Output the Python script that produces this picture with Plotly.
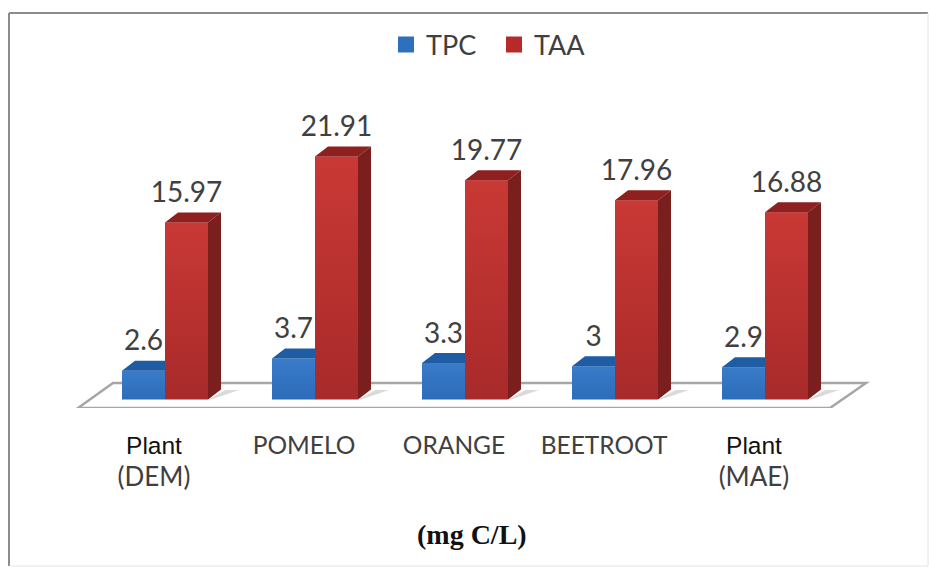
import plotly.graph_objects as go

categories = ["Plant (DEM)", "POMELO", "ORANGE", "BEETROOT", "Plant (MAE)"]
tick_labels = [
    '<span style="font-family:Liberation Sans;color:#111111">Plant</span><br><span style="font-size:26px">(DEM)</span>',
    "POMELO", "ORANGE", "BEETROOT",
    '<span style="font-family:Liberation Sans;color:#111111">Plant</span><br><span style="font-size:26px">(MAE)</span>',
]
tpc = [2.6, 3.7, 3.3, 3.0, 2.9]
taa = [15.97, 21.91, 19.77, 17.96, 16.88]
tpc_text = ["2.6", "3.7", "3.3", "3", "2.9"]
taa_text = ["15.97", "21.91", "19.77", "17.96", "16.88"]
axis_title = "(mg C/L)"

W, H = 929, 567
PX_X = 150.0      # pixels per category
PX_Y = 11.09      # pixels per value unit
X0_PX = 165.0     # pixel of category 0 (boundary of the two bars)
Y0_PX = 399.5     # pixel of value 0
FLOOR_PX = 408.0  # plot bottom
BAR_W = 43 / PX_X
DX = 13 / PX_X
DY = 10 / PX_Y

xs = list(range(len(categories)))
x_range = [-X0_PX / PX_X, (W - X0_PX) / PX_X]
y_range = [-(FLOOR_PX - Y0_PX) / PX_Y, Y0_PX / PX_Y]
y_low = y_range[0]


def px(x):
    return (x - X0_PX) / PX_X


def py(y):
    return (Y0_PX - y) / PX_Y


def polys(faces):
    ax, ay = [], []
    for f in faces:
        for (a, b) in f:
            ax.append(a)
            ay.append(b)
        ax.append(f[0][0])
        ay.append(f[0][1])
        ax.append(None)
        ay.append(None)
    return ax, ay


fig = go.Figure()

BLUE, BLUE_TOP = "#2c6cb9", "#1e5ca3"
RED, RED_TOP, RED_SIDE = "#a82a2a", "#8e2020", "#7b1e1e"
LEG_BLUE, LEG_RED = "#2f70bd", "#b62a2a"

fig.add_trace(go.Bar(x=[i - BAR_W for i in xs], y=tpc, width=BAR_W, offset=0, name="TPC",
                     marker=dict(color=BLUE, line_width=0), showlegend=False))
fig.add_trace(go.Bar(x=xs, y=taa, width=BAR_W, offset=0, name="TAA",
                     marker=dict(color=RED, line_width=0), showlegend=False))

# vertical sheen over each red and blue front face
for i, v in zip(xs, taa):
    fx, fy = polys([[(i, 0), (i, v), (i + BAR_W, v), (i + BAR_W, 0)]])
    fig.add_trace(go.Scatter(x=fx[:-1], y=fy[:-1], mode="lines", fill="toself", line=dict(width=0),
                             fillgradient=dict(type="vertical",
                                               colorscale=[[0, "rgba(255,80,70,0)"], [1, "rgba(255,80,70,0.38)"]]),
                             showlegend=False, hoverinfo="skip"))
for i, v in zip(xs, tpc):
    fx, fy = polys([[(i - BAR_W, 0), (i - BAR_W, v), (i, v), (i, 0)]])
    fig.add_trace(go.Scatter(x=fx[:-1], y=fy[:-1], mode="lines", fill="toself", line=dict(width=0),
                             fillgradient=dict(type="vertical",
                                               colorscale=[[0, "rgba(90,160,240,0)"], [1, "rgba(90,160,240,0.3)"]]),
                             showlegend=False, hoverinfo="skip"))

# depth faces
tx, ty = polys([[(i - BAR_W, v), (i - BAR_W + DX, v + DY), (i, v + DY), (i, v)] for i, v in zip(xs, tpc)])
fig.add_trace(go.Scatter(x=tx, y=ty, mode="lines", fill="toself", fillcolor=BLUE_TOP,
                         line=dict(width=0, color=BLUE_TOP), showlegend=False, hoverinfo="skip"))
tx, ty = polys([[(i, v), (i + DX, v + DY), (i + BAR_W + DX, v + DY), (i + BAR_W, v)] for i, v in zip(xs, taa)])
fig.add_trace(go.Scatter(x=tx, y=ty, mode="lines", fill="toself", fillcolor=RED_TOP,
                         line=dict(width=0, color=RED_TOP), showlegend=False, hoverinfo="skip"))
tx, ty = polys([[(i + BAR_W, 0), (i + BAR_W + DX, DY), (i + BAR_W + DX, v + DY), (i + BAR_W, v)] for i, v in zip(xs, taa)])
fig.add_trace(go.Scatter(x=tx, y=ty, mode="lines", fill="toself", fillcolor=RED_SIDE,
                         line=dict(width=0, color=RED_SIDE), showlegend=False, hoverinfo="skip"))

# data labels
LABEL_FONT = dict(family="Lato", size=28, color="#404040")
LIFT = 1.2
fig.add_trace(go.Scatter(x=[i - BAR_W / 2 for i in xs], y=[v + LIFT for v in tpc], text=tpc_text,
                         mode="text", textposition="top center", textfont=LABEL_FONT,
                         showlegend=False, hoverinfo="skip"))
fig.add_trace(go.Scatter(x=[i + BAR_W / 2 for i in xs], y=[v + LIFT for v in taa], text=taa_text,
                         mode="text", textposition="top center", textfont=LABEL_FONT,
                         showlegend=False, hoverinfo="skip"))

# legend entries
fig.add_trace(go.Scatter(x=[None], y=[None], mode="markers", name="TPC",
                         marker=dict(symbol="square", size=16, color=LEG_BLUE)))
fig.add_trace(go.Scatter(x=[None], y=[None], mode="markers", name="TAA",
                         marker=dict(symbol="square", size=16, color=LEG_RED)))

shapes = []
# floor
floor = [(px(78), y_low), (px(113), py(383)), (px(866), py(383)), (px(830), y_low)]
path = "M" + " L".join(f"{a},{b}" for a, b in floor) + " Z"
shapes.append(dict(type="path", path=path, xref="x", yref="y", layer="below",
                   fillcolor="white", line=dict(color="#a6a6a6", width=2.5)))
# floor shadows
for i in xs:
    a = i + BAR_W
    p = [(a, 0), (a + DX + 0.03, 0.85), (a + DX + 0.12, 0.85), (a + 0.02, 0)]
    shapes.append(dict(type="path", path="M" + " L".join(f"{u},{v}" for u, v in p) + " Z",
                       xref="x", yref="y", layer="below",
                       fillcolor="rgba(150,150,150,0.35)", line_width=0))
# outer frame
bottom_paper = -(566 - FLOOR_PX) / FLOOR_PX
top_paper = 1 - 13 / FLOOR_PX
shapes.append(dict(type="line", xref="paper", yref="paper", x0=9 / W, x1=9 / W, y0=bottom_paper, y1=top_paper,
                   line=dict(color="#8c8c8c", width=2)))
shapes.append(dict(type="line", xref="paper", yref="paper", x0=9 / W, x1=928 / W, y0=top_paper, y1=top_paper,
                   line=dict(color="#8c8c8c", width=2)))
shapes.append(dict(type="line", xref="paper", yref="paper", x0=928 / W, x1=928 / W, y0=bottom_paper, y1=top_paper,
                   line=dict(color="#e4e4e4", width=1)))
shapes.append(dict(type="line", xref="paper", yref="paper", x0=9 / W, x1=928 / W, y0=bottom_paper, y1=bottom_paper,
                   line=dict(color="#e4e4e4", width=1)))

fig.update_layout(
    width=W, height=H,
    margin=dict(l=0, r=0, t=0, b=int(H - FLOOR_PX)),
    paper_bgcolor="white", plot_bgcolor="rgba(0,0,0,0)",
    barmode="overlay", shapes=shapes,
    legend=dict(orientation="h", x=386 / W, xanchor="left", y=1 - 45 / FLOOR_PX, yanchor="middle",
                font=dict(family="Lato", size=27, color="#404040"),
                entrywidth=63, entrywidthmode="pixels", bgcolor="rgba(0,0,0,0)"),
    xaxis=dict(range=x_range, tickvals=[i - 11 / PX_X for i in xs], ticktext=tick_labels,
               tickfont=dict(family="Lato", size=24.5, color="#404040"),
               ticks="outside", ticklen=16, tickcolor="rgba(0,0,0,0)", showgrid=False, zeroline=False,
               showline=False, tickangle=0),
    yaxis=dict(range=y_range, visible=False, showgrid=False, zeroline=False),
    annotations=[dict(text=f"<b>{axis_title}</b>", xref="paper", yref="paper", x=472 / W,
                      y=-(534 - FLOOR_PX) / FLOOR_PX, xanchor="center", yanchor="middle", showarrow=False,
                      font=dict(family="Liberation Serif", size=28, color="#111111"))],
)

fig.write_html("out.html", config=dict(displayModeBar=False),
               post_script="document.body.style.margin='0';document.documentElement.style.overflow='hidden';")
